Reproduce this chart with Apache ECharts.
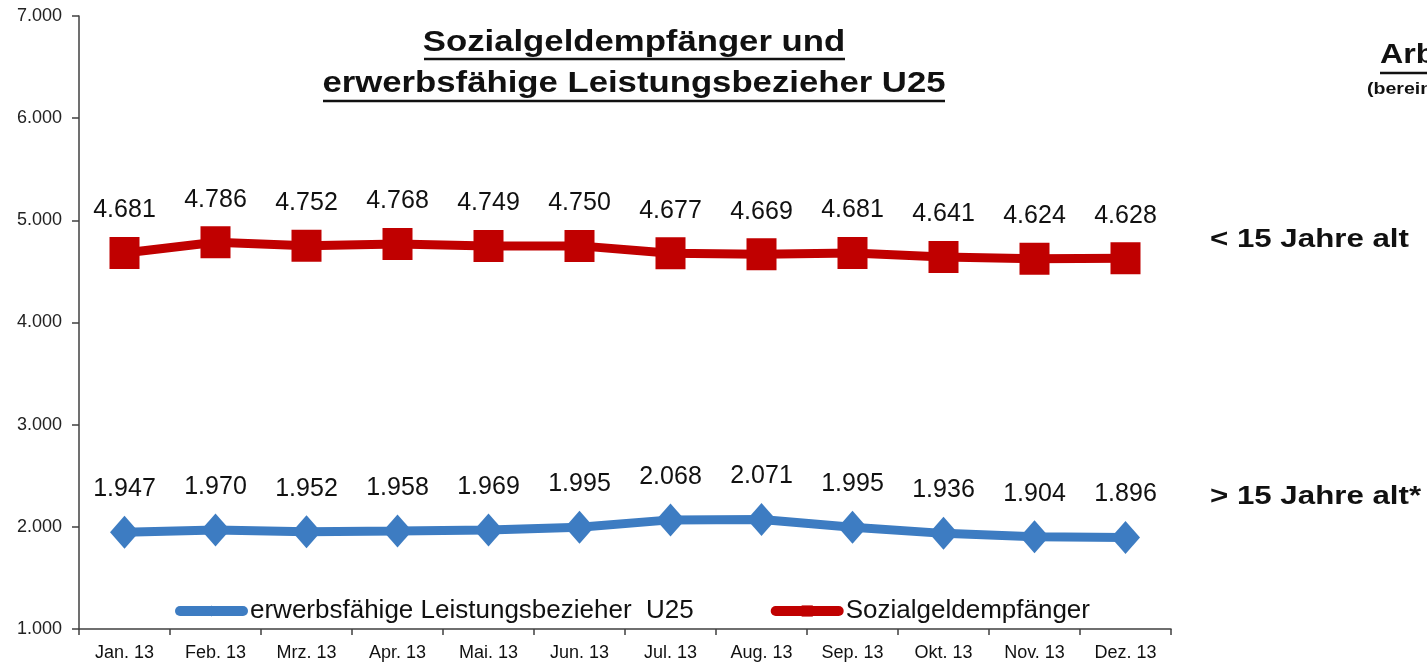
<!DOCTYPE html>
<html><head><meta charset="utf-8">
<script src="https://cdn.jsdelivr.net/npm/echarts@6/dist/echarts.min.js"></script>
<style>html,body{margin:0;padding:0;background:#fff}#c{width:1427px;height:665px}</style>
</head><body><div id="c"></div>
<script>
const categories = ["Jan. 13","Feb. 13","Mrz. 13","Apr. 13","Mai. 13","Jun. 13","Jul. 13","Aug. 13","Sep. 13","Okt. 13","Nov. 13","Dez. 13"];
const u25 = [1947,1970,1952,1958,1969,1995,2068,2071,1995,1936,1904,1896];
const sozialgeld = [4681,4786,4752,4768,4749,4750,4677,4669,4681,4641,4624,4628];
const seriesNames = ["erwerbsfähige Leistungsbezieher  U25","Sozialgeldempfänger"];
const titleLines = ["Sozialgeldempfänger und","erwerbsfähige Leistungsbezieher U25"];
const sideLabels = ["< 15 Jahre alt","> 15 Jahre alt*"];

const fmt = v => (v/1000).toFixed(3);
const FONT = "Liberation Sans, Arial, sans-serif";
const BLUE = '#3d7cc2', RED = '#c00000';
const chart = echarts.init(document.getElementById('c'));
chart.setOption({
  animation:false,
  backgroundColor:'#fff',
  grid:{left:79,top:16,right:256,bottom:36,containLabel:false},
  xAxis:{type:'category',data:categories,boundaryGap:true,
    axisLine:{lineStyle:{color:'#404040',width:1.5}},
    axisTick:{show:true,length:6,lineStyle:{color:'#404040',width:1.5}},
    axisLabel:{color:'#111',fontFamily:FONT,fontSize:18,margin:15},
    splitLine:{show:false}},
  yAxis:{type:'value',min:1000,max:7000,interval:1000,
    axisLine:{show:true,lineStyle:{color:'#404040',width:1.5}},
    axisTick:{show:true,length:7,lineStyle:{color:'#404040',width:1.5}},
    axisLabel:{color:'#222',fontFamily:FONT,fontSize:18,margin:17,formatter:fmt},
    splitLine:{show:false}},
  legend:{left:170,top:593,itemWidth:63,itemHeight:14,itemGap:77,
    textStyle:{fontFamily:FONT,fontSize:26,color:'#111',padding:[0,0,0,2]},
    data:[
      {name:seriesNames[0],lineStyle:{width:10,cap:'round'}},
      {name:seriesNames[1],lineStyle:{width:10,cap:'round'}}
    ]},
  series:[
    {name:seriesNames[0],type:'line',data:u25,symbol:'diamond',symbolSize:[29,33],
     itemStyle:{color:BLUE},lineStyle:{color:BLUE,width:9},
     label:{show:true,position:'top',distance:14,formatter:p=>fmt(p.value),
       fontFamily:FONT,fontSize:25,color:'#111'}},
    {name:seriesNames[1],type:'line',data:sozialgeld,symbol:'rect',symbolSize:[30,32],
     itemStyle:{color:RED},lineStyle:{color:RED,width:9},
     label:{show:true,position:'top',distance:14,formatter:p=>fmt(p.value),
       fontFamily:FONT,fontSize:25,color:'#111'}}
  ],
  graphic:[
    {type:'text',x:634,y:43,scaleX:1.157,style:{text:titleLines[0],font:'bold 30px '+FONT,fill:'#111',textAlign:'center',textVerticalAlign:'middle'}},
    {type:'text',x:634,y:84,scaleX:1.157,style:{text:titleLines[1],font:'bold 30px '+FONT,fill:'#111',textAlign:'center',textVerticalAlign:'middle'}},
    {type:'line',shape:{x1:424,y1:59,x2:845,y2:59},style:{stroke:'#111',lineWidth:2.5}},
    {type:'line',shape:{x1:323,y1:101,x2:945,y2:101},style:{stroke:'#111',lineWidth:2.5}},
    {type:'text',x:1210,y:240,scaleX:1.25,style:{text:sideLabels[0],font:'bold 25px '+FONT,fill:'#111',textVerticalAlign:'middle'}},
    {type:'text',x:1210,y:497,scaleX:1.25,style:{text:sideLabels[1],font:'bold 25px '+FONT,fill:'#111',textVerticalAlign:'middle'}},
    {type:'text',x:1380,y:55,scaleX:1.15,style:{text:'Arbeitslose',font:'bold 28px '+FONT,fill:'#111',textVerticalAlign:'middle'}},
    {type:'line',shape:{x1:1380,y1:73,x2:1427,y2:73},style:{stroke:'#111',lineWidth:2.5}},
    {type:'text',x:1367,y:89,scaleX:1.15,style:{text:'(bereinigt)',font:'bold 17px '+FONT,fill:'#111',textVerticalAlign:'middle'}}
  ]
});
</script></body></html>
